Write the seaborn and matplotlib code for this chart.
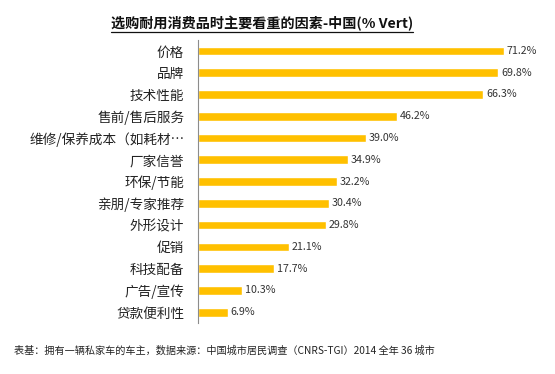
import matplotlib
matplotlib.use("Agg")
import matplotlib.pyplot as plt
import seaborn as sns
import pandas as pd
from matplotlib.lines import Line2D

factors = ["价格", "品牌", "技术性能", "售前/售后服务", "维修/保养成本（如耗材…",
           "厂家信誉", "环保/节能", "亲朋/专家推荐", "外形设计", "促销",
           "科技配备", "广告/宣传", "贷款便利性"]
shares = [71.2, 69.8, 66.3, 46.2, 39.0, 34.9, 32.2, 30.4, 29.8, 21.1, 17.7, 10.3, 6.9]

title = "选购耐用消费品时主要看重的因素-中国(% Vert)"
note = "表基：拥有一辆私家车的车主，数据来源：中国城市居民调查（CNRS-TGI）2014 全年 36 城市"

sns.set_style("white")
plt.rcParams["font.family"] = ["Noto Sans CJK SC", "DejaVu Sans"]

df = pd.DataFrame({"factor": factors, "share": shares})

fig = plt.figure(figsize=(5.55, 3.74), dpi=100)
ax = fig.add_axes([0.357, 0.136, 0.62, 0.757])

sns.barplot(data=df, x="share", y="factor", orient="h", color="#FFC000",
            saturation=1, width=0.4, ax=ax)

for i, v in enumerate(shares):
    ax.text(v + 0.6, i, f"{v:.1f}%", va="center", ha="left", fontsize=7.7, color="#333333")

ax.set_xlim(0, 80)
ax.set_ylim(12.5, -0.5)
ax.set_xlabel("")
ax.set_ylabel("")
ax.set_xticks([])
ax.tick_params(axis="y", length=0, pad=10, labelsize=9.8, labelcolor="#222222")
for s in ["top", "right", "bottom"]:
    ax.spines[s].set_visible(False)
ax.spines["left"].set_color("#8c8c8c")
ax.spines["left"].set_linewidth(0.8)

t = fig.text(0.472, 0.938, title, ha="center", va="center", fontsize=10.2,
             fontweight="bold", color="#111111")
fig.canvas.draw()
bb = t.get_window_extent().transformed(fig.transFigure.inverted())
fig.add_artist(Line2D([bb.x0, bb.x1], [bb.y0 - 0.004, bb.y0 - 0.004],
                      transform=fig.transFigure, color="#111111", linewidth=0.9))

fig.text(0.025, 0.063, note, ha="left", va="center", fontsize=7.3, color="#222222")

fig.savefig("out.png", dpi=100)
